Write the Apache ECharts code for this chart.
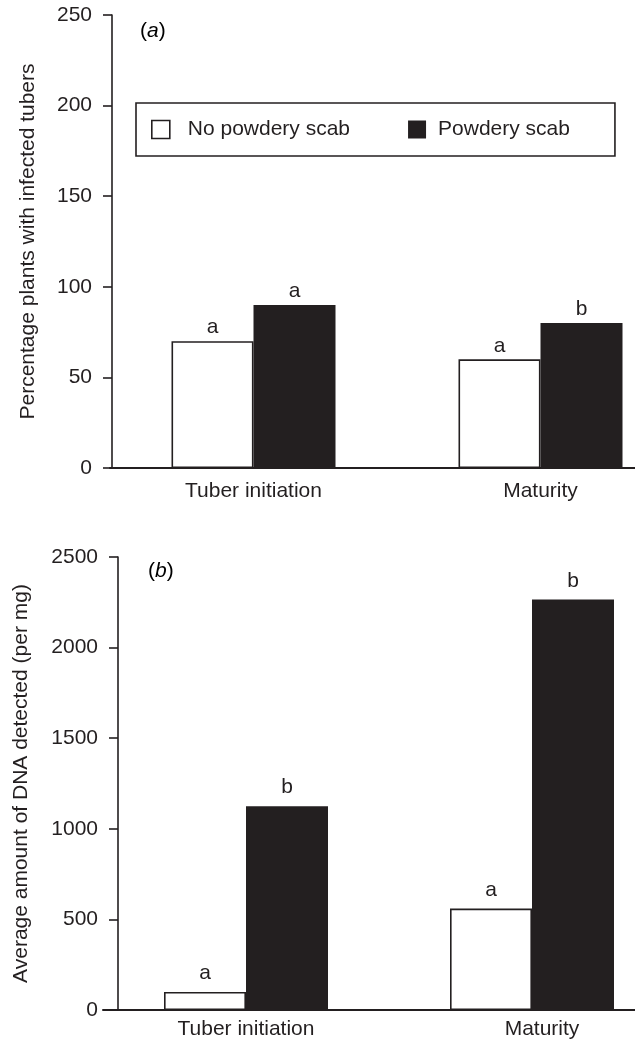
<!DOCTYPE html>
<html>
<head>
<meta charset="utf-8">
<script src="https://cdn.jsdelivr.net/npm/echarts@6/dist/echarts.min.js"></script>
<style>
html,body{margin:0;padding:0;background:#fff;}
#chart{width:635px;height:1041px;}
</style>
</head>
<body>
<div id="chart"></div>
<script>
// ---- data ----
const categories = ['Tuber initiation', 'Maturity'];
const seriesNames = ['No powdery scab', 'Powdery scab'];
// panel (a): percentage plants with infected tubers
const pctNoScab = [70, 60];
const pctScab = [90, 80];
const pctLettersNoScab = ['a', 'a'];
const pctLettersScab = ['a', 'b'];
const pctTicks = { min: 0, max: 250, interval: 50 };
// panel (b): average amount of DNA detected (per mg)
const dnaNoScab = [100, 560];
const dnaScab = [1125, 2265];
const dnaLettersNoScab = ['a', 'a'];
const dnaLettersScab = ['b', 'b'];
const dnaTicks = { min: 0, max: 2500, interval: 500 };

const INK = '#231f20';
const FONT = "'Liberation Sans', Arial, sans-serif";
const FS = 21;

const chart = echarts.init(document.getElementById('chart'), null, { renderer: 'canvas' });

function yAxisCfg(gridIndex, ticks, name, offset, nameGap) {
  return {
    type: 'value', gridIndex, min: ticks.min, max: ticks.max, interval: ticks.interval,
    offset,
    name, nameLocation: 'middle', nameGap, nameRotate: 90,
    nameTextStyle: { fontFamily: FONT, fontSize: FS, color: INK },
    axisLine: { show: true, lineStyle: { color: INK, width: 1.6 } },
    axisTick: { show: true, length: 9, lineStyle: { color: INK, width: 1.6 } },
    axisLabel: { margin: 20, fontFamily: FONT, fontSize: FS, color: INK, formatter: (v) => String(v) },
    splitLine: { show: false }
  };
}
function xAxisCfg(gridIndex, margin, data) {
  return {
    type: 'category', gridIndex, data,
    axisLine: { show: true, lineStyle: { color: INK, width: 2 } },
    axisTick: { show: false },
    axisLabel: { margin, fontFamily: FONT, fontSize: FS, color: INK, interval: 0 },
    splitLine: { show: false }
  };
}
function barSeries(name, xi, values, letters, filled, dist) {
  return {
    type: 'bar', name, xAxisIndex: xi, yAxisIndex: xi, data: values,
    barWidth: 82, barGap: '0%',
    itemStyle: filled ? { color: INK } : { color: '#ffffff', borderColor: INK, borderWidth: 1.6 },
    label: {
      show: true, position: 'top', distance: dist,
      fontFamily: FONT, fontSize: FS, color: INK,
      formatter: (p) => letters[p.dataIndex]
    },
    emphasis: { disabled: true },
    animation: false
  };
}

const italicRich = {
  n: { fontFamily: FONT, fontSize: FS, color: INK },
  i: { fontFamily: FONT, fontSize: FS, color: INK, fontStyle: 'italic' }
};

chart.setOption({
  backgroundColor: '#ffffff',
  animation: false,
  grid: [
    { left: 110, top: 15, width: 574, height: 453, containLabel: false, outerBoundsMode: 'none' },
    { left: 103, top: 557, width: 572, height: 453, containLabel: false, outerBoundsMode: 'none' }
  ],
  legend: {
    left: 136, top: 103,
    orient: 'horizontal',
    icon: 'rect', itemWidth: 18, itemHeight: 18, itemGap: 58,
    padding: [16, 45, 16, 15],
    borderColor: INK, borderWidth: 1.6,
    selectedMode: false,
    textStyle: { fontFamily: FONT, fontSize: FS, color: INK },
    data: [
      { name: seriesNames[0], itemStyle: { color: '#ffffff', borderColor: INK, borderWidth: 1.6 }, textStyle: { padding: [0, 0, 0, 13] } },
      { name: seriesNames[1], itemStyle: { color: INK }, textStyle: { padding: [0, 0, 0, 7] } }
    ]
  },
  xAxis: [
    xAxisCfg(0, 13, categories),
    xAxisCfg(1, 9, categories.map((c, i) => i === 1 ? { value: c, textStyle: { padding: [0, 0, 0, 20] } } : c))
  ],
  yAxis: [
    yAxisCfg(0, pctTicks, 'Percentage plants with infected tubers', -2, 73),
    yAxisCfg(1, dnaTicks, 'Average amount of DNA detected (per mg)', -15, 86)
  ],
  graphic: [
    { type: 'text', left: 140, top: 21, style: { text: '{n|(}{i|a}{n|)}', rich: italicRich } },
    { type: 'text', left: 148, top: 561, style: { text: '{n|(}{i|b}{n|)}', rich: italicRich } }
  ],
  series: [
    barSeries(seriesNames[0], 0, pctNoScab, pctLettersNoScab, false, 3),
    barSeries(seriesNames[1], 0, pctScab, pctLettersScab, true, 3),
    barSeries(seriesNames[0], 1, dnaNoScab, dnaLettersNoScab, false, 8),
    barSeries(seriesNames[1], 1, dnaScab, dnaLettersScab, true, 8)
  ]
});
</script>
</body>
</html>
